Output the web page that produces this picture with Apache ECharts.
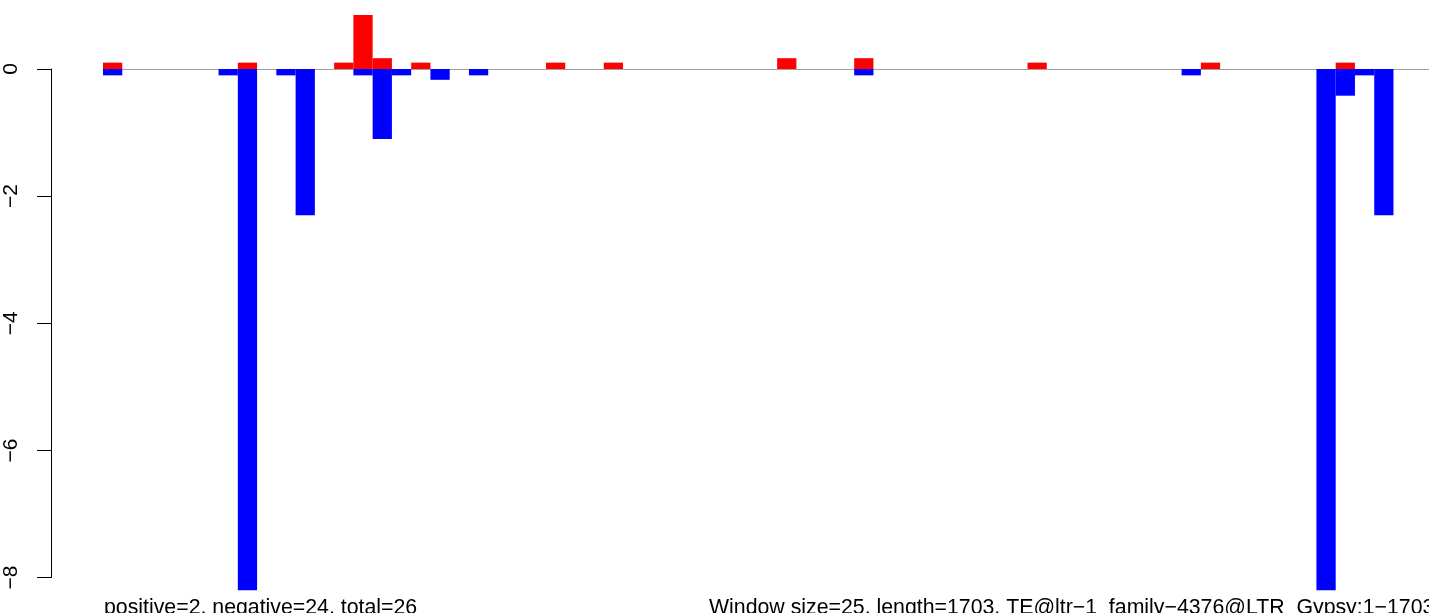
<!DOCTYPE html>
<html>
<head>
<meta charset="utf-8">
<script src="https://cdn.jsdelivr.net/npm/echarts@6/dist/echarts.min.js"></script>
<style>
html,body{margin:0;padding:0;background:#fff;overflow:hidden;}
#c{width:1440px;height:613px;}
</style>
</head>
<body>
<div id="c"></div>
<script>
// window index (1..69), 25-bp windows over length 1703
const categories = Array.from({length: 69}, (_, i) => String(i + 1));
const positiveBins = [0,7,12,13,14,16,23,26,35,39,48,57,64];
const positiveVals = [0.1,0.1,0.1,0.85,0.17,0.1,0.1,0.1,0.17,0.17,0.1,0.1,0.1];
const negativeBins = [0,6,7,9,10,13,14,15,17,19,39,56,63,64,65,66];
const negativeVals = [-0.1,-0.1,-8.2,-0.1,-2.3,-0.1,-1.1,-0.1,-0.17,-0.1,-0.1,-0.1,-8.2,-0.42,-0.1,-2.3];
const yTicks = [-8, -6, -4, -2, 0];
const leftNote = 'positive=2, negative=24, total=26';
const rightNote = 'Window size=25, length=1703, TE@ltr\u22121_family\u22124376@LTR_Gypsy:1\u22121703';

const posData = categories.map(() => 0);
positiveBins.forEach((b, i) => { posData[b] = positiveVals[i]; });
const negData = categories.map(() => 0);
negativeBins.forEach((b, i) => { negData[b] = negativeVals[i]; });

const FONT = '"Liberation Sans", Arial, Helvetica, sans-serif';
const chart = echarts.init(document.getElementById('c'), null, {renderer: 'canvas'});
chart.setOption({
  animation: false,
  backgroundColor: '#ffffff',
  grid: {left: 103, top: 69, width: 1329, height: 508.6, containLabel: false},
  xAxis: {
    type: 'category',
    data: categories,
    boundaryGap: true,
    axisLine: {show: true, onZero: true, lineStyle: {color: '#a0a0a0', width: 1.2}},
    axisTick: {show: false},
    axisLabel: {show: false},
    splitLine: {show: false}
  },
  yAxis: {
    type: 'value',
    min: yTicks[0],
    max: yTicks[yTicks.length - 1],
    interval: 2,
    offset: 52,
    axisLine: {show: true, lineStyle: {color: '#000', width: 1}},
    axisTick: {show: true, length: 14, lineStyle: {color: '#000', width: 1}},
    axisLabel: {
      show: true, rotate: 90, margin: 29, color: '#000',
      fontFamily: FONT, fontSize: 21,
      formatter: v => String(v).replace('-', '\u2212')
    },
    splitLine: {show: false}
  },
  series: [
    {
      type: 'bar', name: 'positive', data: posData,
      barCategoryGap: '0%', barGap: '-100%', clip: false,
      itemStyle: {color: '#ff0000'}
    },
    {
      type: 'bar', name: 'negative', data: negData,
      barCategoryGap: '0%', barGap: '-100%', clip: false,
      itemStyle: {color: '#0000ff'}
    }
  ],
  graphic: [
    {type: 'text', left: 104, top: 597.5, silent: true,
     style: {text: leftNote, fill: '#000', font: '21.3px ' + FONT}},
    {type: 'text', left: 709, top: 597.5, silent: true,
     style: {text: rightNote, fill: '#000', font: '21.3px ' + FONT}}
  ]
});
</script>
</body>
</html>
